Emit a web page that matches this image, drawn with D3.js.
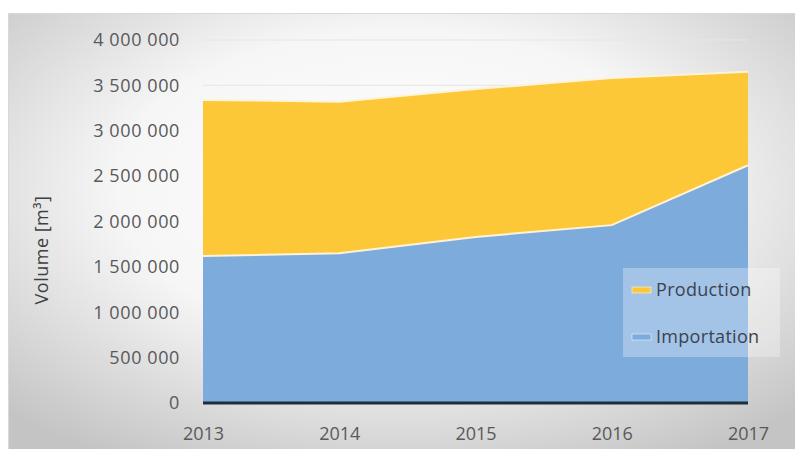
<!DOCTYPE html>
<html><head><meta charset="utf-8">
<script src="https://cdn.jsdelivr.net/npm/d3@7"></script>
<style>body{margin:0;background:#fff}svg{display:block}</style>
</head><body>
<script>
const years = ["2013","2014","2015","2016","2017"];
const importation = [1620000, 1650000, 1830000, 1960000, 2620000];
const production = [1720000, 1670000, 1630000, 1620000, 1030000];
const yTicks = [0,500000,1000000,1500000,2000000,2500000,3000000,3500000,4000000];
const seriesNames = ["Importation","Production"];

const W=795,H=449;
const svg=d3.select("body").append("svg").attr("width",W).attr("height",H);
const defs=svg.append("defs");
const rg=defs.append("radialGradient").attr("id","bg").attr("cx","50%").attr("cy","40%").attr("r","72%");
rg.append("stop").attr("offset","0%").attr("stop-color","#ffffff");
rg.append("stop").attr("offset","50%").attr("stop-color","#f6f6f6");
rg.append("stop").attr("offset","100%").attr("stop-color","#c4c4c4");
svg.append("rect").attr("x",8).attr("y",13).attr("width",W-8).attr("height",H-13).attr("fill","url(#bg)");
svg.append("line").attr("x1",8).attr("x2",W).attr("y1",13.5).attr("y2",13.5).attr("stroke","#d8d8d8");
svg.append("line").attr("x1",8.5).attr("x2",8.5).attr("y1",13).attr("y2",H).attr("stroke","#d8d8d8");

const x=d3.scalePoint().domain(years).range([203,748]);
const y=d3.scaleLinear().domain([0,4000000]).range([403,40]);
const font="'Open Sans', 'Liberation Sans', sans-serif";

// gridlines
svg.append("g").selectAll("line").data(yTicks).join("line")
  .attr("x1",203).attr("x2",748).attr("y1",d=>y(d)).attr("y2",d=>y(d))
  .attr("stroke","#e6e6e6").attr("stroke-width",1);

const data=years.map((yr,i)=>({year:yr,Importation:importation[i],Production:production[i]}));
const stack=d3.stack().keys(seriesNames)(data);
const colors={Importation:"#7cabdc",Production:"#fcc838"};
const area=d3.area().x(d=>x(d.data.year)).y0(d=>y(d[0])).y1(d=>y(d[1]));
svg.append("g").selectAll("path").data(stack).join("path")
  .attr("d",area).attr("fill",d=>colors[d.key]);
const line=d3.line().x(d=>x(d.data.year)).y(d=>y(d[1]));
svg.append("g").selectAll("path").data(stack).join("path")
  .attr("d",line).attr("fill","none").attr("stroke","#fdf3d8").attr("stroke-width",2);

// baseline
svg.append("line").attr("x1",203).attr("x2",748).attr("y1",y(0)).attr("y2",y(0))
  .attr("stroke","#1f2d3d").attr("stroke-width",3);

// y axis labels
const ya=d3.axisLeft(y).tickValues(yTicks).tickSize(0).tickPadding(0)
  .tickFormat(d=>d3.format(",")(d).replace(/,/g," "));
const gy=svg.append("g").attr("transform","translate(180,0)").call(ya);
gy.select(".domain").remove();
gy.selectAll("text").attr("font-family",font).attr("font-size",18).attr("letter-spacing","0.6px").attr("fill","#595959");

const xa=d3.axisBottom(x).tickSize(0).tickPadding(0);
const gx=svg.append("g").attr("transform","translate(0,427)").call(xa);
gx.select(".domain").remove();
gx.selectAll("text").attr("font-family",font).attr("font-size",18).attr("fill","#595959").attr("dy","0.71em");

svg.append("text").attr("transform","translate(48,250) rotate(-90)").attr("text-anchor","middle")
  .attr("font-family",font).attr("font-size",18).attr("letter-spacing","0.5px").attr("fill","#404040").text("Volume [m³]");

// legend
const lg=svg.append("g");
lg.append("rect").attr("x",623).attr("y",268).attr("width",157).attr("height",89).attr("fill","#ffffff").attr("opacity",0.3);
const legItems=[["Production",290],["Importation",337]];
legItems.forEach(([k,yy])=>{
  lg.append("rect").attr("x",632).attr("y",yy-3).attr("width",19).attr("height",6).attr("fill",colors[k]).attr("stroke","#ffffff").attr("stroke-width",0.5);
  lg.append("text").attr("x",656).attr("y",yy).attr("dy","0.35em").attr("font-family",font).attr("font-size",18).attr("letter-spacing","0.3px").attr("fill","#3b4350").text(k);
});
</script>
</body></html>
